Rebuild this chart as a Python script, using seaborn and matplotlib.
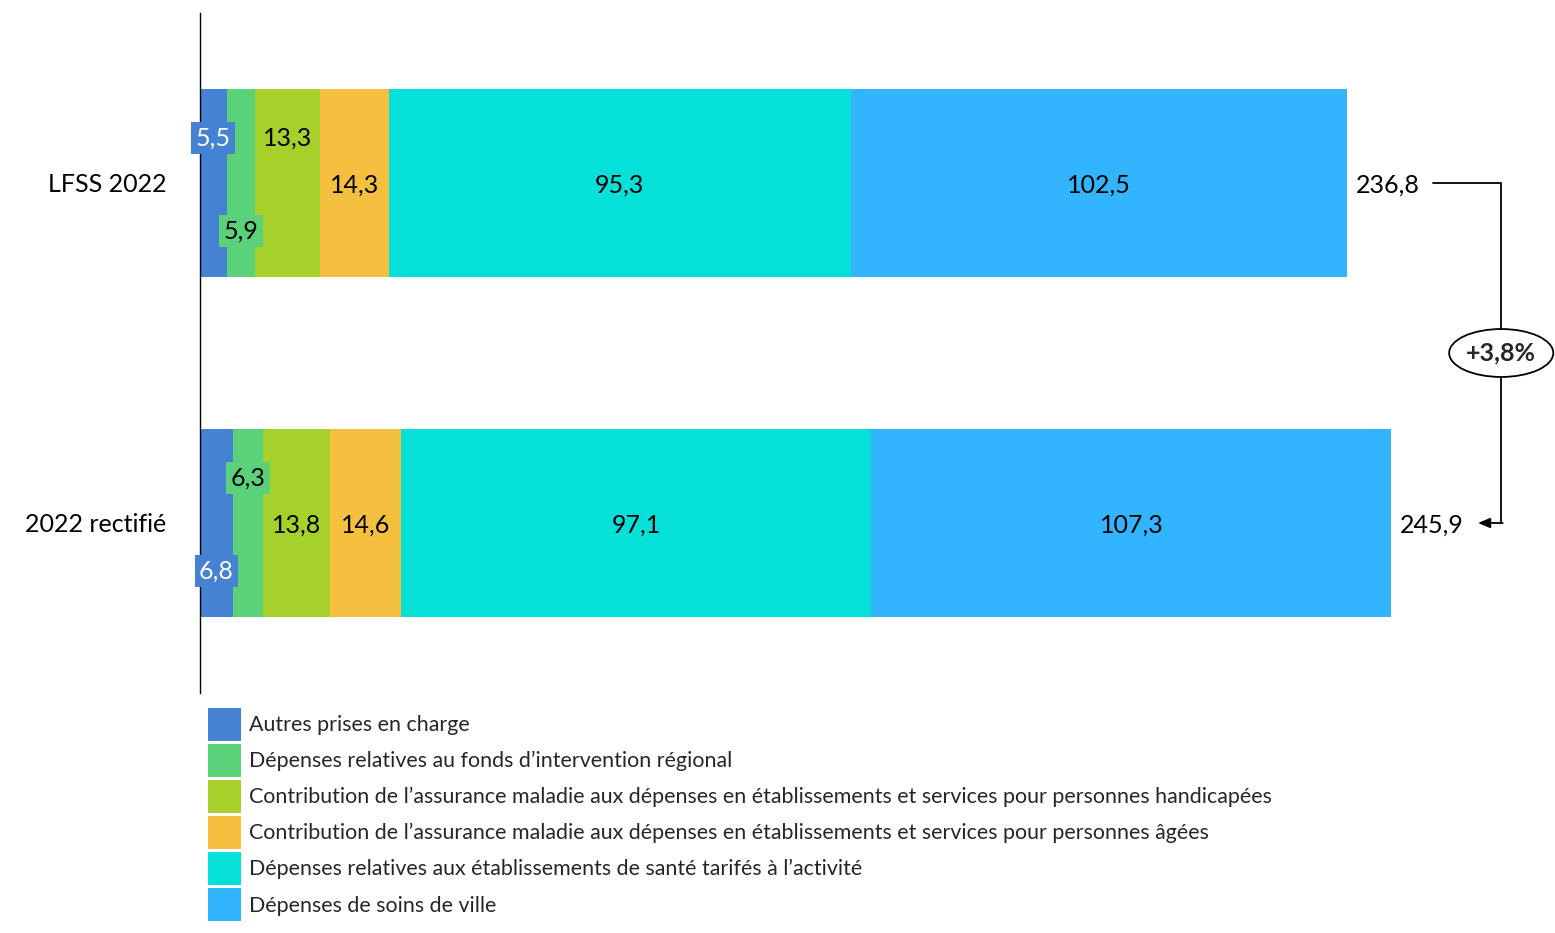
import numpy as np
import pandas as pd
import matplotlib
matplotlib.use("Agg")
import matplotlib.pyplot as plt
from matplotlib.patches import Patch, Ellipse
import seaborn as sns

categories = ["LFSS 2022", "2022 rectifié"]
series_names = [
    "Autres prises en charge",
    "Dépenses relatives au fonds d’intervention régional",
    "Contribution de l’assurance maladie aux dépenses en établissements et services pour personnes handicapées",
    "Contribution de l’assurance maladie aux dépenses en établissements et services pour personnes âgées",
    "Dépenses relatives aux établissements de santé tarifés à l’activité",
    "Dépenses de soins de ville",
]
autres = [5.5, 6.8]
fir = [5.9, 6.3]
handicap = [13.3, 13.8]
ages = [14.3, 14.6]
etablissements = [95.3, 97.1]
ville = [102.5, 107.3]
totals = [236.8, 245.9]
colors = ["#4682D3", "#5BD17A", "#A6D12A", "#F5BF40", "#05E1D9", "#32B4FF"]
text_colors = ["white", "black", "black", "black", "black", "black"]
# vertical placement of the value label inside each segment: -1 up, 0 centre, +1 down
label_pos = [[-1, 1], [1, -1], [-1, 0], [0, 0], [0, 0], [0, 0]]

series = [autres, fir, handicap, ages, etablissements, ville]

sns.set_theme(style="white")
plt.rcParams["font.family"] = ["Lato", "DejaVu Sans"]

fig = plt.figure(figsize=(15.55, 9.33), dpi=100)
ax = fig.add_axes([200 / 1555, 1 - 693 / 933, 1 - 200 / 1555, (693 - 13) / 933])

vals = np.array(series)
cum = np.cumsum(vals, axis=0)
bar_h = 0.553
for i in range(len(series) - 1, -1, -1):
    df = pd.DataFrame({"cat": categories, "val": cum[i]})
    sns.barplot(data=df, x="val", y="cat", orient="h", color=colors[i],
                saturation=1, width=bar_h, linewidth=0, errorbar=None, ax=ax)

ax.set_xlim(0, 279.7)
ax.set_ylim(1.5, -0.5)
ax.set_xlabel("")
ax.set_ylabel("")
ax.set_xticks([])
for s in ["top", "right", "bottom"]:
    ax.spines[s].set_visible(False)
ax.spines["left"].set_color("black")
ax.spines["left"].set_linewidth(1.0)
ax.tick_params(axis="y", length=0, pad=24, labelsize=18, labelcolor="black")

fs = 18
off = 0.137
for i in range(len(series)):
    for j in range(len(categories)):
        v = vals[i, j]
        xc = cum[i, j] - v / 2
        p = label_pos[i][j]
        yc = j + p * off + 0.005
        txt = f"{v:.1f}".replace(".", ",")
        kw = {}
        if p != 0 and i < 2:
            kw["bbox"] = dict(boxstyle="square,pad=0.18", facecolor=colors[i], edgecolor="none")
        ax.text(xc, yc, txt, ha="center", va="center", fontsize=fs,
                color=text_colors[i], **kw)

for j, t in enumerate(totals):
    ax.text(t + 1.8, j + 0.005, f"{t:.1f}".replace(".", ","), ha="left", va="center",
            fontsize=fs, color="black")

# growth connector
bx = max(totals) + 22.7
ax.plot([totals[0] + 17.7, bx, bx], [0, 0, 1], color="black", lw=1.3, clip_on=False)
ax.annotate("", xy=(totals[1] + 17.9, 1), xytext=(bx + 0.3, 1),
            arrowprops=dict(arrowstyle="-|>,head_length=0.6,head_width=0.25",
                            color="black", lw=1.3, shrinkA=0, shrinkB=0),
            annotation_clip=False)
growth = (totals[1] / totals[0] - 1) * 100
ell = Ellipse((bx, 0.5), width=21.5, height=0.141, facecolor="white",
              edgecolor="black", lw=1.3, clip_on=False, zorder=5)
ax.add_patch(ell)
ax.text(bx, 0.5, f"+{growth:.1f}%".replace(".", ","), ha="center", va="center",
        fontsize=18, fontweight="bold", zorder=6)

handles = [Patch(facecolor=c, edgecolor="none") for c in colors]
fig.legend(handles, series_names, loc="upper left",
           bbox_to_anchor=(208 / 1555, 1 - 708 / 933), frameon=False,
           fontsize=15.4, handlelength=1.54, handleheight=2.0,
           handletextpad=0.37, labelspacing=0.14, borderpad=0, borderaxespad=0)

fig.savefig("out.png", dpi=100, facecolor="white")
